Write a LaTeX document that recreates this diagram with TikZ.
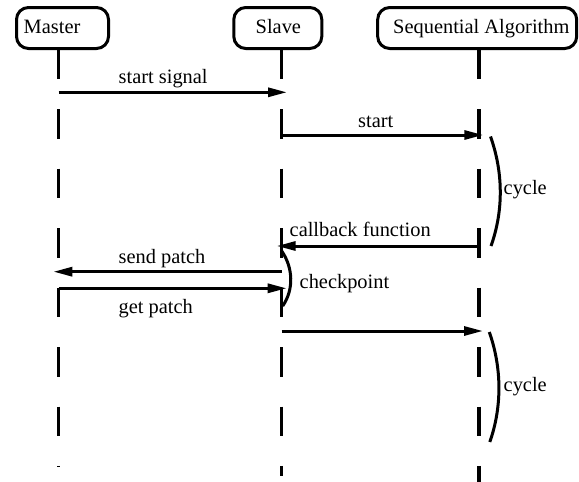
\documentclass[tikz,border=0pt]{standalone}
\usepackage{fontspec}
\setmainfont{Liberation Serif}
\usetikzlibrary{arrows.meta}
\begin{document}
\begin{tikzpicture}[x=1pt,y=-1pt,
  actor/.style={draw,line width=3pt,rounded corners=12pt,inner sep=0pt},
  lifeline/.style={line width=3.3pt,dash pattern=on 29.5pt off 29.95pt},
  msg/.style={line width=3pt,-{Triangle[length=19pt,width=9pt]}},
  bracket/.style={line width=3pt},
  lbl/.style={anchor=base west,inner sep=0pt,font=\fontsize{20.4}{24}\selectfont}]
\useasboundingbox (0,0) rectangle (579,482);
% actor boxes
\node[actor,minimum width=92pt,minimum height=41pt] (mbox) at (62.5,28) {};
\node[actor,minimum width=88pt,minimum height=41pt] (sbox) at (277.8,28) {};
\node[actor,minimum width=199pt,minimum height=41pt] (abox) at (477.2,28) {};
\node[lbl] (mtext) at (23.5,33) {Master};
\node[lbl] (stext) at (255.5,33) {Slave};
\node[lbl] (atext) at (393,33) {Sequential Algorithm};
% lifelines
\coordinate (mtop) at (58.5,49.8);
\coordinate (mend) at (58.5,467);
\coordinate (stop) at (281.7,49.8);
\coordinate (send) at (281.7,476);
\coordinate (atop) at (479,49.8);
\coordinate (aend) at (479,482);
\draw[lifeline] (mtop) -- (mend);
\draw[lifeline] (stop) -- (send);
\draw[lifeline] (atop) -- (aend);
% message end points
\coordinate (m1) at (58.5,92.3);
\coordinate (s1) at (287,92.3);
\coordinate (s2) at (281.7,135);
\coordinate (a2) at (483.3,135);
\coordinate (a3) at (479,246);
\coordinate (s3) at (276.7,246);
\coordinate (s4) at (281.7,271.7);
\coordinate (m4) at (53.3,271.7);
\coordinate (m5) at (58.5,288.3);
\coordinate (s5) at (286.7,288.3);
\coordinate (s6) at (281.7,331);
\coordinate (a6) at (483,331);
% messages
\draw[msg] (m1) -- (s1);
\draw[msg] (s2) -- (a2);
\draw[msg] (a3) -- (s3);
\draw[msg] (s4) -- (m4);
\draw[msg] (m5) -- (s5);
\draw[msg] (s6) -- (a6);
% brackets (circular-like arcs)
\coordinate (c1a) at (490.5,136.5);
\coordinate (c1b) at (491,246);
\draw[bracket] (c1a) .. controls (503.2,172.1) and (503.7,210.4) .. (c1b);
\coordinate (c2a) at (489.3,332);
\coordinate (c2b) at (489.8,442);
\draw[bracket] (c2a) .. controls (501.8,367.6) and (502.3,406.4) .. (c2b);
\coordinate (cpa) at (281.7,251);
\coordinate (cpb) at (282.7,306);
\draw[bracket] (cpa) .. controls (293.1,267.6) and (294.1,289.4) .. (cpb);
% labels
\node[lbl] (l1) at (118.5,83.5) {start signal};
\node[lbl] (l2) at (358,127.3) {start};
\node[lbl] (l3) at (503.5,194) {cycle};
\node[lbl] (l4) at (289.5,236.7) {callback function};
\node[lbl] (l5) at (118.5,263.3) {send patch};
\node[lbl] (l6) at (299.5,288.3) {checkpoint};
\node[lbl] (l7) at (118.5,313.5) {get patch};
\node[lbl] (l8) at (503.5,391) {cycle};
\end{tikzpicture}
\end{document}
